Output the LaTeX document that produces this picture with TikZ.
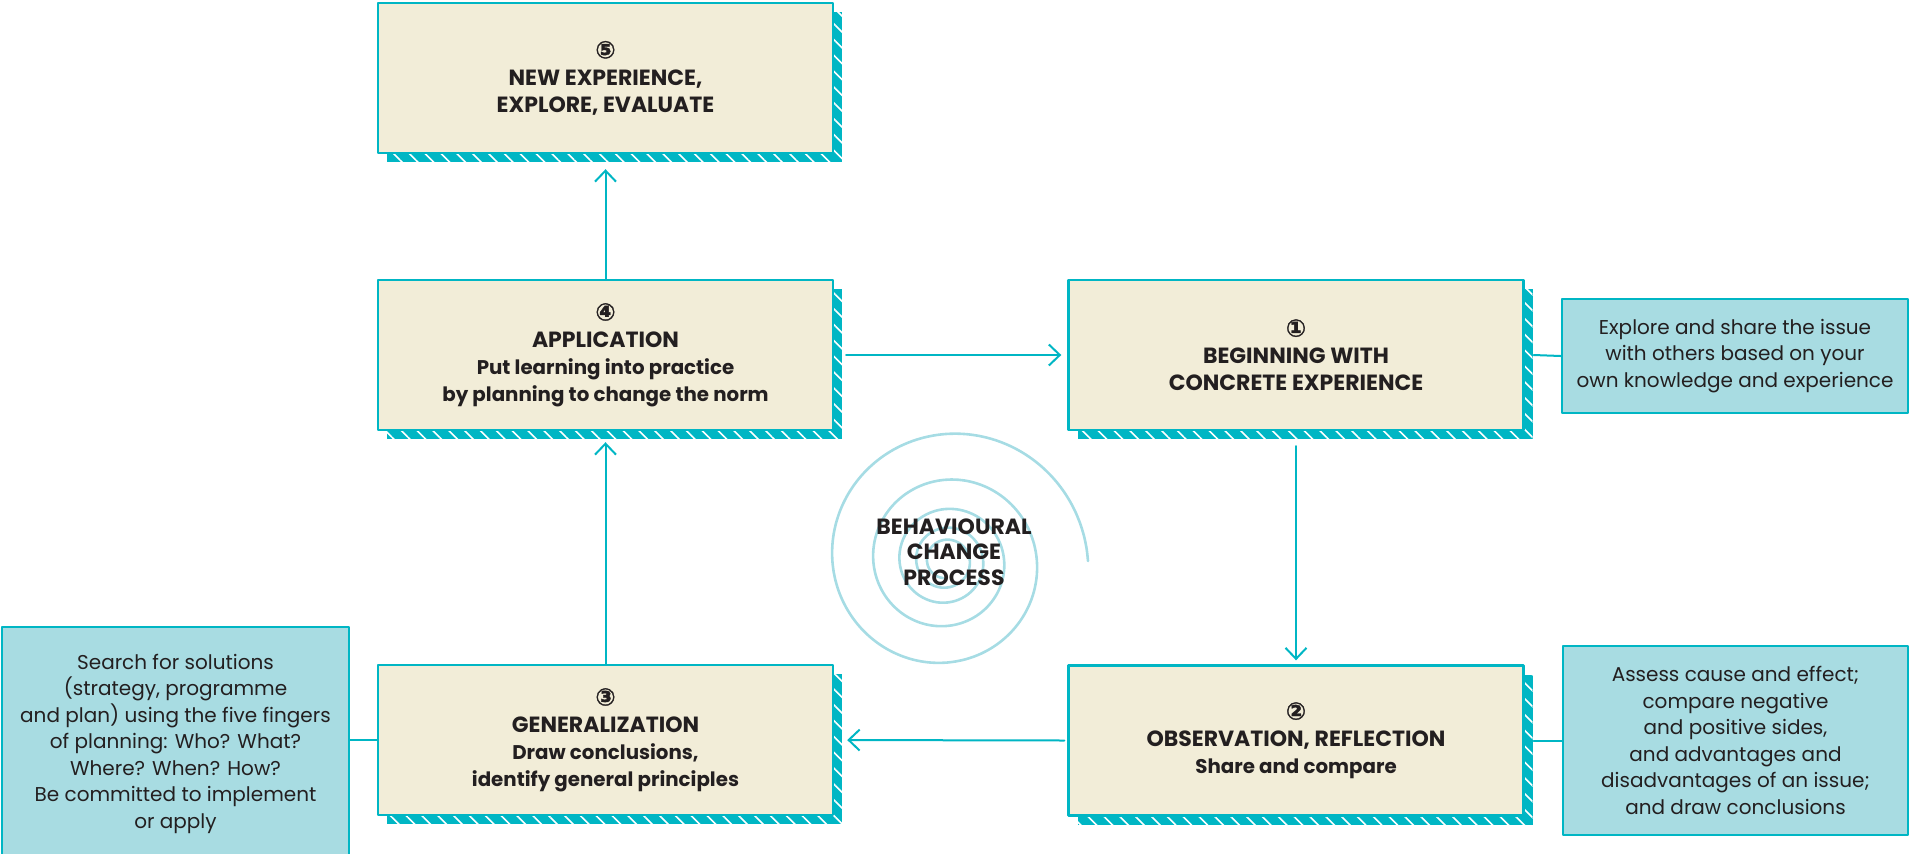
\documentclass[tikz,border=0pt]{standalone}
\usepackage{fontspec}
\setmainfont{Poppins}
\newfontfamily\circfont[FakeBold=1.5]{DejaVu Sans}
\usetikzlibrary{arrows.meta, calc, patterns.meta, shadows}

\definecolor{tealc}{RGB}{0,182,196}
\definecolor{creamc}{RGB}{242,237,216}
\definecolor{sidec}{RGB}{168,220,226}
\definecolor{spiralc}{RGB}{166,220,228}
\definecolor{inkc}{RGB}{35,31,32}

\newcommand{\stageno}[1]{{\circfont\fontsize{12}{13.5}\selectfont #1}}
\newcommand{\subline}[1]{{\fontsize{9.9}{13.5}\selectfont #1}}

\begin{document}
\begin{tikzpicture}[line cap=round,line join=round,>={Straight Barb[length=5.5pt,width=10.5pt]},x=0.5pt,y=-0.5pt,
  stage/.style={rectangle, draw=tealc, line width=1.2pt, fill=creamc, text=inkc, align=center,
    font=\bfseries\fontsize{11}{13.5}\selectfont, minimum width=227.5pt, minimum height=75pt, inner sep=0pt,
    general shadow={fill=tealc, shadow xshift=4.5pt, shadow yshift=-4.5pt},
    general shadow={pattern={Lines[angle=-45,distance=5.6pt,line width=0.8pt]}, pattern color=white,
      shadow xshift=4.5pt, shadow yshift=-4.5pt}},
  side/.style={rectangle, draw=tealc, line width=1.2pt, fill=sidec, text=inkc, align=center,
    font=\fontsize{10}{13.25}\selectfont, inner sep=0pt},
  link/.style={tealc, line width=1pt},
  flow/.style={link, ->}]
\clip[use as bounding box] (0,0) rectangle (1910,853);

\draw[spiralc, line width=1.3pt] plot[domain=0:1700, samples=340, smooth, variable=\t]
  ({946+142*0.8^(\t/180)*cos(\t)}, {561-142*0.8^(\t/180)*sin(\t)});

\node[stage] (new) at (605.5,78) {\stageno{⑤}\\NEW EXPERIENCE,\\EXPLORE, EVALUATE};
\node[stage] (apply) at (605.5,355) {\stageno{④}\\APPLICATION\\\subline{Put learning into practice}\\\subline{by planning to change the norm}};
\node[stage] (begin) at (1296,355) {\stageno{①}\\BEGINNING WITH\\CONCRETE EXPERIENCE};
\node[stage] (observe) at (1296,740.5) {\stageno{②}\\OBSERVATION, REFLECTION\\\subline{Share and compare}};
\node[stage] (general) at (605.5,740) {\stageno{③}\\GENERALIZATION\\\subline{Draw conclusions,}\\\subline{identify general principles}};

\node[side, minimum width=173pt, minimum height=57pt] (share) at (1735,356)
  {Explore and share the issue\\with others based on your\\own knowledge and experience};
\node[side, minimum width=172.5pt, minimum height=94.5pt] (assess) at (1735.5,740.5)
  {Assess cause and effect;\\compare negative\\and positive sides,\\and advantages and\\disadvantages of an issue;\\and draw conclusions};
\node[side, minimum width=173.5pt, minimum height=116.5pt] (search) at (175.5,743.5)
  {Search for solutions\\(strategy, programme\\and plan) using the five fingers\\of planning: Who? What?\\Where? When? How?\\Be committed to implement\\or apply};

\node[text=inkc, align=center, font=\bfseries\fontsize{11}{12.75}\selectfont] (process) at (954,552)
  {BEHAVIOURAL\\CHANGE\\PROCESS};

\draw[flow, shorten >=7.5pt] (apply.north) -- (new.south);
\draw[flow, shorten >=5.5pt] (general.north) -- (apply.south);
\draw[flow, shorten <=6pt, shorten >=3pt] (apply.east) -- (begin.west);
\draw[flow, shorten <=7.5pt, shorten >=2pt] (begin.south) -- (observe.north);
\draw[flow, shorten <=1.5pt, shorten >=6.5pt] (observe.west) -- (general.east);

\draw[link] ([xshift=4.5pt]begin.east) -- (share.west);
\draw[link] ([xshift=4.5pt]observe.east) -- (assess.west);
\draw[link] (search.east |- general.west) -- (general.west);

\end{tikzpicture}
\end{document}
